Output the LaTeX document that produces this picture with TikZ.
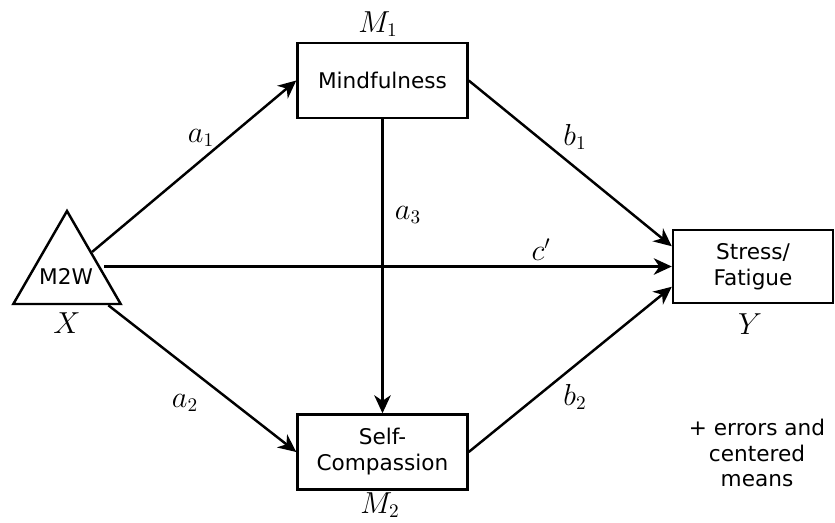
\documentclass[tikz,border=0pt]{standalone}
\usepackage[no-math]{fontspec}
\newfontfamily\boxfont{DejaVu Sans}
\usetikzlibrary{arrows.meta,shapes.geometric}

\tikzset{
	varbox/.style={draw, line width=1.4pt, minimum width=3.4cm, minimum height=1.5cm, align=center, inner sep=1pt, font=\boxfont\fontsize{12.3}{14.8}\selectfont},
	effect/.style={-{Stealth[length=3.6mm, width=3.3mm, inset=1.1mm]}, line width=1.4pt},
	lab/.style={inner sep=1pt, font=\fontsize{16}{19}\selectfont}
}

\begin{document}
\begin{tikzpicture}[x=0.02cm, y=-0.02cm]
		\useasboundingbox (0, 0) rectangle (835, 522);
		% variables
		\node [draw, regular polygon, regular polygon sides=3, minimum size=2.48cm, inner sep=0pt, line width=1.4pt] (m2w) at (67, 273) {};
		\node [font=\boxfont\fontsize{12.3}{14.8}\selectfont, inner sep=0pt] (m2wtext) at (66, 276) {M2W};
		\node [varbox] (mind) at (382.5, 80.5) {Mindfulness};
		\node [varbox] (selfc) at (382.5, 452) {Self-\\Compassion};
		\node [varbox, minimum width=3.2cm, minimum height=1.46cm] (stress) at (753, 266.5) {Stress/\\Fatigue};
		\node [lab] (xlab) at (67, 323) {$X$};
		\node [lab] (ylab) at (750, 324) {$Y$};
		\node [lab] (m1lab) at (378, 24) {$M_1$};
		\node [lab] (m2lab) at (380, 505) {$M_2$};
		% paths
		\draw [effect] (m2w) -- (mind.west);
		\draw [effect] (m2w) -- (selfc.west);
		\draw [effect] (m2w.east |- stress.west) -- (stress.west);
		\draw [effect] (mind.south) -- (selfc.north);
		\draw [effect] (mind.east) -- (stress.166);
		\draw [effect] (selfc.east) -- (stress.194);
		\node [lab] (a1lab) at (201, 138) {$a_1$};
		\node [lab] (a2lab) at (185, 403) {$a_2$};
		\node [lab] (a3lab) at (408, 215) {$a_3$};
		\node [lab] (clab) at (541, 250) {$c'$};
		\node [lab] (b1lab) at (575, 137) {$b_1$};
		\node [lab] (b2lab) at (575, 397) {$b_2$};
		\node [align=center, font=\boxfont\fontsize{12.3}{14.4}\selectfont] (note) at (757, 453) {+ errors and\\centered\\means};
	\end{tikzpicture}
\end{document}
